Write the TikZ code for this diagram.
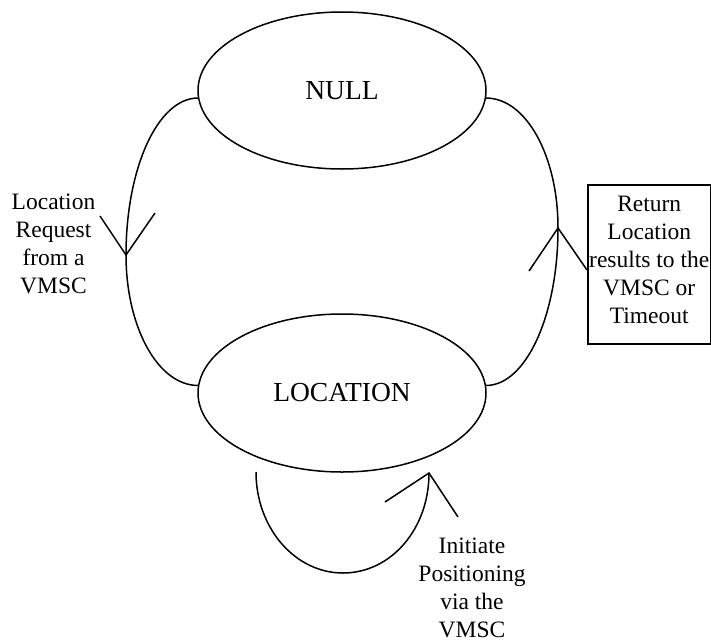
\documentclass[tikz,border=0pt]{standalone}
\usepackage{fontspec}
\setmainfont{Liberation Serif}
\usetikzlibrary{shapes.geometric}
\begin{document}
\begin{tikzpicture}[x=1pt,y=-1pt,
  line width=1.5pt,
  state/.style={draw, ellipse, inner sep=0pt, minimum width=288pt,
    font=\fontsize{27.5}{33}\selectfont},
  lbl/.style={align=center, inner sep=0pt,
    font=\fontsize{23.5}{28}\selectfont}
]
\useasboundingbox (0,0) rectangle (711,642);

% states
\node[state, minimum height=157pt] (null) at (342,90.5) {NULL};
\node[state, minimum height=158pt] (loc) at (342,393) {LOCATION};

% NULL -> LOCATION
\coordinate (la) at (126,255);
\coordinate (la1) at (100,216);
\coordinate (la2) at (155,213);
\draw (null.183) .. controls +(-40,0) and +(0,-87) .. (la)
      .. controls +(0,72) and +(-40,0) .. (loc.177);
\draw (la1) -- (la) -- (la2);

% LOCATION -> NULL
\coordinate (ra) at (558,228);
\coordinate (ra1) at (529,271);
\coordinate (ra2) at (587,270);
\draw (null.-3) .. controls +(40,0) and +(0,-72) .. (ra)
      .. controls +(0,87) and +(40,0) .. (loc.3);
\draw (ra1) -- (ra) -- (ra2);

% LOCATION -> LOCATION
\coordinate (ls) at (256,472);
\coordinate (lb) at (343,573);
\coordinate (le) at (429,473);
\coordinate (le1) at (385,502);
\coordinate (le2) at (458,517);
\draw (ls) .. controls +(0,56) and +(-48,0) .. (lb)
      .. controls +(48,0) and +(0,56) .. (le);
\draw (le1) -- (le) -- (le2);

% labels
\node[lbl] (reqlbl) at (53.5,243.5) {Location\\Request\\from a\\VMSC};
\node[draw, minimum width=123pt, minimum height=159pt, inner sep=0pt,
  anchor=north west] (retbox) at (587,184) {};
\node[lbl] (retlbl) at ([yshift=4pt]retbox.center)
  {Return\\Location\\results to the\\VMSC or\\Timeout};
\node[lbl] (poslbl) at (472,587.5) {Initiate\\Positioning\\via the\\VMSC};
\end{tikzpicture}
\end{document}
